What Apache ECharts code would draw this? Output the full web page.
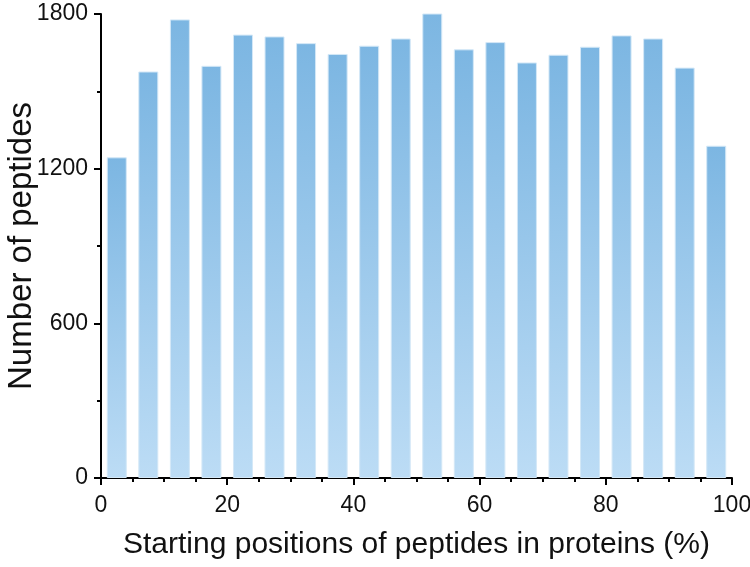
<!DOCTYPE html>
<html>
<head>
<meta charset="utf-8">
<script src="https://cdn.jsdelivr.net/npm/echarts@6/dist/echarts.min.js"></script>
<style>
html,body{margin:0;padding:0;background:#fff;}
#chart{width:750px;height:567px;}
</style>
</head>
<body>
<div id="chart"></div>
<script>
const binCenters = [2.5, 7.5, 12.5, 17.5, 22.5, 27.5, 32.5, 37.5, 42.5, 47.5, 52.5, 57.5, 62.5, 67.5, 72.5, 77.5, 82.5, 87.5, 92.5, 97.5];
const counts = [1244, 1577, 1779, 1599, 1720, 1713, 1687, 1645, 1677, 1705, 1805, 1663, 1691, 1612, 1642, 1673, 1717, 1705, 1592, 1289];
const xTitle = 'Starting positions of peptides in proteins (%)';
const yTitle = 'Number of peptides';

const chart = echarts.init(document.getElementById('chart'));
const font = 'Liberation Sans, Arial, sans-serif';
chart.setOption({
  animation: false,
  grid: {left: 101, right: 18, top: 14, bottom: 89, containLabel: false, outerBoundsMode: 'none'},
  xAxis: {
    type: 'value', min: 0, max: 100, interval: 20,
    name: xTitle, nameLocation: 'middle', nameGap: 52, nameMoveOverlap: false,
    nameTextStyle: {fontFamily: font, fontSize: 30, color: '#111', verticalAlign: 'top'},
    axisLine: {show: true, onZero: false, lineStyle: {color: '#000', width: 2}},
    axisTick: {show: true, length: 7, lineStyle: {color: '#000', width: 2}},
    minorTick: {show: true, splitNumber: 4, length: 4, lineStyle: {color: '#000', width: 2}},
    axisLabel: {fontFamily: font, fontSize: 23, color: '#111', margin: 16, formatter: v => String(v)},
    splitLine: {show: false}
  },
  yAxis: {
    type: 'value', min: 0, max: 1800, interval: 600,
    name: yTitle, nameLocation: 'middle', nameGap: 63, nameRotate: 90, nameMoveOverlap: false,
    nameTextStyle: {fontFamily: font, fontSize: 33, color: '#111', verticalAlign: 'bottom'},
    axisLine: {show: true, lineStyle: {color: '#000', width: 2}},
    axisTick: {show: true, length: 7, lineStyle: {color: '#000', width: 2}},
    minorTick: {show: true, splitNumber: 2, length: 4, lineStyle: {color: '#000', width: 2}},
    axisLabel: {fontFamily: font, fontSize: 23, color: '#111', margin: 13, formatter: v => String(v)},
    splitLine: {show: false}
  },
  series: [{
    type: 'bar',
    barWidth: 20,
    data: binCenters.map((x, i) => [x, counts[i]]),
    itemStyle: {
      color: new echarts.graphic.LinearGradient(0, 0, 0, 1, [
        {offset: 0, color: '#7cb6e2'},
        {offset: 1, color: '#bcdcf5'}
      ]),
      borderColor: '#d4e8f7',
      borderWidth: 1
    }
  }]
});
</script>
</body>
</html>
